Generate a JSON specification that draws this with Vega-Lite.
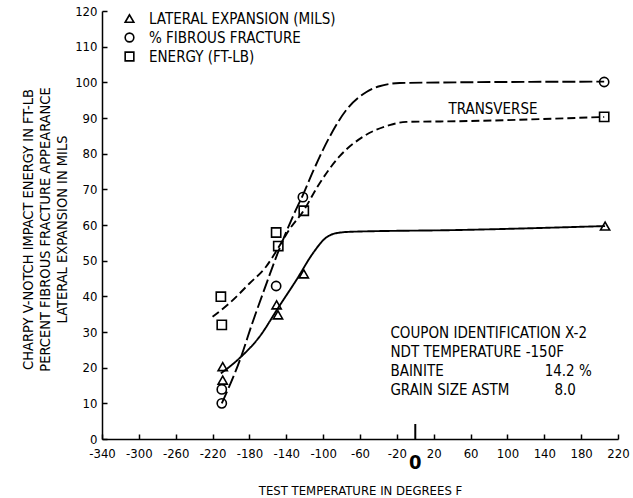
{
  "$schema": "https://vega.github.io/schema/vega-lite/v6.json",
  "autosize": {"type": "none"},
  "padding": {"left": 102, "top": 11, "right": 15, "bottom": 59},
  "width": 516,
  "height": 428,
  "background": "white",
  "config": {
    "view": {"stroke": null},
    "font": "DejaVu Sans Condensed, Liberation Sans, sans-serif",
    "axis": {"labelFont": "DejaVu Sans Condensed, Liberation Sans, sans-serif", "titleFont": "DejaVu Sans Condensed, Liberation Sans, sans-serif", "labelColor": "black", "titleColor": "black", "domainColor": "black", "tickColor": "black", "grid": false, "labelOverlap": false, "labelFlush": false, "labelBound": false, "tickCount": 30}
  },
  "datasets": {
    "curves": [
      {"curve": "lateral", "temp": -211, "value": 18.4},
      {"curve": "lateral", "temp": -191, "value": 22.6},
      {"curve": "lateral", "temp": -169, "value": 28.7},
      {"curve": "lateral", "temp": -148, "value": 37.1},
      {"curve": "lateral", "temp": -129, "value": 44.6},
      {"curve": "lateral", "temp": -111, "value": 52.1},
      {"curve": "lateral", "temp": -98, "value": 56.2},
      {"curve": "lateral", "temp": -86, "value": 57.7},
      {"curve": "lateral", "temp": -70, "value": 58.1},
      {"curve": "lateral", "temp": 48, "value": 58.6},
      {"curve": "lateral", "temp": 206, "value": 59.7},
      {"curve": "fibrous", "temp": -210, "value": 10.0},
      {"curve": "fibrous", "temp": -189, "value": 23.1},
      {"curve": "fibrous", "temp": -177, "value": 32.4},
      {"curve": "fibrous", "temp": -164, "value": 41.8},
      {"curve": "fibrous", "temp": -148, "value": 53.0},
      {"curve": "fibrous", "temp": -133, "value": 62.3},
      {"curve": "fibrous", "temp": -122, "value": 68.4},
      {"curve": "fibrous", "temp": -110, "value": 75.6},
      {"curve": "fibrous", "temp": -93, "value": 84.7},
      {"curve": "fibrous", "temp": -75, "value": 92.2},
      {"curve": "fibrous", "temp": -53, "value": 97.3},
      {"curve": "fibrous", "temp": -39, "value": 98.9},
      {"curve": "fibrous", "temp": -17, "value": 99.8},
      {"curve": "fibrous", "temp": 48, "value": 100.0},
      {"curve": "fibrous", "temp": 205, "value": 100.2},
      {"curve": "energy", "temp": -220, "value": 34.3},
      {"curve": "energy", "temp": -202, "value": 38.0},
      {"curve": "energy", "temp": -180, "value": 43.6},
      {"curve": "energy", "temp": -162, "value": 48.3},
      {"curve": "energy", "temp": -148, "value": 53.9},
      {"curve": "energy", "temp": -137, "value": 58.6},
      {"curve": "energy", "temp": -121, "value": 64.1},
      {"curve": "energy", "temp": -106, "value": 70.8},
      {"curve": "energy", "temp": -82, "value": 79.3},
      {"curve": "energy", "temp": -57, "value": 84.7},
      {"curve": "energy", "temp": -28, "value": 88.0},
      {"curve": "energy", "temp": -10, "value": 88.9},
      {"curve": "energy", "temp": 48, "value": 89.1},
      {"curve": "energy", "temp": 205, "value": 90.3}
    ],
    "points": [
      {"series": "LATERAL EXPANSION (MILS)", "temp": -209, "value": 20.3},
      {"series": "LATERAL EXPANSION (MILS)", "temp": -209, "value": 16.5},
      {"series": "LATERAL EXPANSION (MILS)", "temp": -150.5, "value": 37.6},
      {"series": "LATERAL EXPANSION (MILS)", "temp": -149, "value": 34.8},
      {"series": "LATERAL EXPANSION (MILS)", "temp": -121, "value": 46.3},
      {"series": "LATERAL EXPANSION (MILS)", "temp": 206, "value": 59.7},
      {"series": "% FIBROUS   FRACTURE", "temp": -210, "value": 13.9},
      {"series": "% FIBROUS   FRACTURE", "temp": -210, "value": 10.0},
      {"series": "% FIBROUS   FRACTURE", "temp": -151, "value": 42.9},
      {"series": "% FIBROUS   FRACTURE", "temp": -122, "value": 67.8},
      {"series": "% FIBROUS   FRACTURE", "temp": 205, "value": 100.1},
      {"series": "ENERGY (FT-LB)", "temp": -211, "value": 39.9},
      {"series": "ENERGY (FT-LB)", "temp": -210, "value": 32.0},
      {"series": "ENERGY (FT-LB)", "temp": -151, "value": 57.9},
      {"series": "ENERGY (FT-LB)", "temp": -148.7, "value": 54.1},
      {"series": "ENERGY (FT-LB)", "temp": -121, "value": 64.0},
      {"series": "ENERGY (FT-LB)", "temp": 205, "value": 90.3}
    ],
    "notes": [
      {"label": "TRANSVERSE", "temp": 36, "value": 92.5},
      {"label": "COUPON IDENTIFICATION X-2", "temp": -27, "value": 29.7},
      {"label": "NDT TEMPERATURE -150F", "temp": -27, "value": 24.4},
      {"label": "BAINITE", "temp": -27, "value": 19.1},
      {"label": "14.2 %", "temp": 140.4, "value": 19.1},
      {"label": "GRAIN SIZE ASTM", "temp": -27, "value": 13.7},
      {"label": "8.0", "temp": 151, "value": 13.7}
    ],
    "zero": [{"temp": 0, "value": 0, "top": 4.2, "label": "0", "labelY": -6.6}]
  },
  "layer": [
    {
      "data": {"name": "curves"},
      "mark": {"type": "line", "interpolate": "monotone", "color": "black", "strokeWidth": 1.9},
      "encoding": {
        "x": {"field": "temp", "type": "quantitative", "scale": {"domain": [-340, 220], "nice": false, "zero": false},
          "axis": {"values": [-340, -300, -260, -220, -180, -140, -100, -60, -20, 20, 60, 100, 140, 180, 220], "tickCount": 30, "labelOverlap": false, "labelExpr": "replace(datum.label, '\u2212', '-')", "title": "TEST TEMPERATURE IN DEGREES F", "titleFontSize": 13, "titleFontWeight": "normal", "titleY": 51, "titleBaseline": "middle", "labelFontSize": 13, "tickSize": -5, "labelPadding": 13, "domainWidth": 1.5, "tickWidth": 1.5}},
        "y": {"field": "value", "type": "quantitative", "scale": {"domain": [0, 120], "nice": false},
          "axis": {"values": [0, 10, 20, 30, 40, 50, 60, 70, 80, 90, 100, 110, 120], "tickCount": 30, "labelOverlap": false, "title": ["CHARPY V-NOTCH IMPACT ENERGY IN FT-LB", "PERCENT FIBROUS FRACTURE APPEARANCE", "LATERAL EXPANSION IN MILS"], "titleFontSize": 14.5, "titleFontWeight": "normal", "titleX": -74, "titleY": 218, "titleAngle": -90, "titleAlign": "center", "titleBaseline": "middle", "titleLineHeight": 17, "labelFontSize": 13, "tickSize": -5, "labelPadding": 10, "domainWidth": 1.5, "tickWidth": 1.5}},
        "strokeDash": {"field": "curve", "type": "nominal", "scale": {"domain": ["lateral", "fibrous", "energy"], "range": [[1, 0], [13, 4], [8, 4]]}, "legend": null}
      }
    },
    {
      "data": {"name": "points"},
      "mark": {"type": "point", "filled": false, "color": "black", "strokeWidth": 1.6, "size": 85, "opacity": 1},
      "encoding": {
        "x": {"field": "temp", "type": "quantitative"},
        "y": {"field": "value", "type": "quantitative"},
        "shape": {"field": "series", "type": "nominal", "scale": {"domain": ["LATERAL EXPANSION (MILS)", "% FIBROUS   FRACTURE", "ENERGY (FT-LB)"], "range": ["triangle-up", "circle", "square"]},
          "legend": {"title": null, "orient": "none", "legendX": 20, "legendY": 0, "labelFont": "DejaVu Sans Condensed, Liberation Sans, sans-serif", "labelFontSize": 15, "labelColor": "black", "labelOffset": 12, "rowPadding": 2, "symbolSize": 75, "symbolStrokeColor": "black", "symbolStrokeWidth": 1.6, "symbolFillColor": "transparent", "labelLimit": 400}}
      }
    },
    {
      "data": {"name": "notes"},
      "mark": {"type": "text", "font": "DejaVu Sans Condensed, Liberation Sans, sans-serif", "fontSize": 15, "color": "black", "baseline": "middle", "align": "left"},
      "encoding": {
        "x": {"field": "temp", "type": "quantitative"},
        "y": {"field": "value", "type": "quantitative"},
        "text": {"field": "label"}
      }
    },
    {
      "data": {"name": "zero"},
      "mark": {"type": "rule", "color": "black", "strokeWidth": 2},
      "encoding": {
        "x": {"field": "temp", "type": "quantitative"},
        "y": {"field": "value", "type": "quantitative"},
        "y2": {"field": "top"}
      }
    },
    {
      "data": {"name": "zero"},
      "mark": {"type": "text", "font": "DejaVu Sans Condensed, Liberation Sans, sans-serif", "fontSize": 20, "fontWeight": "bold", "color": "black", "baseline": "middle", "clip": false},
      "encoding": {
        "x": {"field": "temp", "type": "quantitative"},
        "y": {"field": "labelY", "type": "quantitative"},
        "text": {"field": "label"}
      }
    }
  ]
}
